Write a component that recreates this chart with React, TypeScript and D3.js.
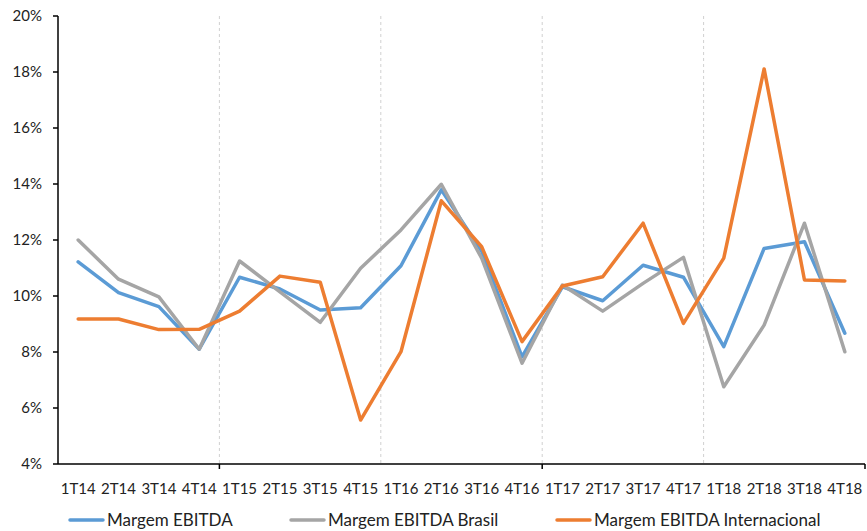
import * as d3 from "d3";
import { useEffect, useRef } from "react";

const categories = [
  "1T14", "2T14", "3T14", "4T14",
  "1T15", "2T15", "3T15", "4T15",
  "1T16", "2T16", "3T16", "4T16",
  "1T17", "2T17", "3T17", "4T17",
  "1T18", "2T18", "3T18", "4T18",
];

const margemEbitda = [
  11.22, 10.12, 9.62, 8.1, 10.67, 10.25, 9.5, 9.58, 11.08, 13.79,
  11.6, 7.83, 10.33, 9.83, 11.1, 10.67, 8.19, 11.7, 11.94, 8.67,
];
const margemBrasil = [
  12.0, 10.6, 9.97, 8.1, 11.25, 10.15, 9.06, 10.99, 12.36, 13.99,
  11.35, 7.6, 10.39, 9.46, 10.45, 11.38, 6.76, 8.96, 12.6, 8.01,
];
const margemInternacional = [
  9.18, 9.18, 8.8, 8.81, 9.46, 10.71, 10.49, 5.57, 8.01, 13.4,
  11.76, 8.37, 10.36, 10.69, 12.6, 9.02, 11.35, 18.11, 10.57, 10.54,
];

const yTicks = [4, 6, 8, 10, 12, 14, 16, 18, 20];

const series = [
  { name: "Margem EBITDA", values: margemEbitda, color: "#5B9BD5" },
  { name: "Margem EBITDA Brasil", values: margemBrasil, color: "#A5A5A5" },
  { name: "Margem EBITDA Internacional", values: margemInternacional, color: "#ED7D31" },
];

const W = 867, H = 531;
const FONT = "Lato, 'Open Sans', sans-serif";

const App = () => {
  const ref: any = useRef();

  useEffect(() => {
    const svg = d3.select(ref.current);
    svg.selectAll("*").remove();

    const left = 58, right = 865, top = 16, bottom = 464;

    const x = d3.scaleBand().domain(categories).range([left, right]).padding(0);
    const y = d3.scaleLinear().domain([4, 20]).range([bottom, top]);
    const cx = (c: string) => (x(c) as number) + x.bandwidth() / 2;

    // dashed vertical gridlines every 4 quarters
    const grid = [4, 8, 12, 16].map(i => x(categories[i]) as number);
    svg.append("g")
      .selectAll("line")
      .data(grid)
      .join("line")
        .attr("x1", d => d).attr("x2", d => d)
        .attr("y1", top).attr("y2", bottom)
        .attr("stroke", "#d0d0d0")
        .attr("stroke-width", 1)
        .attr("stroke-dasharray", "3,3");

    // y axis
    const ya = svg.append("g");
    ya.append("line")
      .attr("x1", left).attr("x2", left).attr("y1", top).attr("y2", bottom)
      .attr("stroke", "#000").attr("stroke-width", 1.5);
    ya.selectAll("line.t")
      .data(yTicks)
      .join("line")
        .attr("class", "t")
        .attr("x1", left - 5).attr("x2", left)
        .attr("y1", d => y(d)).attr("y2", d => y(d))
        .attr("stroke", "#000").attr("stroke-width", 1.5);
    ya.selectAll("text")
      .data(yTicks)
      .join("text")
        .attr("x", 42)
        .attr("y", d => y(d))
        .attr("dy", "0.35em")
        .attr("text-anchor", "end")
        .attr("font-family", FONT)
        .attr("font-size", 15)
        .attr("fill", "#222")
        .text(d => `${d}%`);

    // x axis
    const xa = svg.append("g");
    xa.append("line")
      .attr("x1", left).attr("x2", right).attr("y1", bottom).attr("y2", bottom)
      .attr("stroke", "#000").attr("stroke-width", 1.5);
    const xTickPos = [4, 12].map(i => x(categories[i]) as number).concat([right]);
    xa.selectAll("line.t")
      .data(xTickPos)
      .join("line")
        .attr("class", "t")
        .attr("x1", d => d).attr("x2", d => d)
        .attr("y1", bottom).attr("y2", bottom + 5)
        .attr("stroke", "#000").attr("stroke-width", 1.5);
    xa.selectAll("text")
      .data(categories)
      .join("text")
        .attr("x", d => cx(d))
        .attr("y", 494)
        .attr("text-anchor", "middle")
        .attr("font-family", FONT)
        .attr("font-size", 15)
        .attr("fill", "#222")
        .text(d => d);

    // lines
    const line = d3.line<number>()
      .x((_, i) => cx(categories[i]))
      .y(d => y(d));

    svg.append("g")
      .selectAll("path")
      .data(series)
      .join("path")
        .attr("d", d => line(d.values))
        .attr("fill", "none")
        .attr("stroke", d => d.color)
        .attr("stroke-width", 3.5)
        .attr("stroke-linejoin", "round")
        .attr("stroke-linecap", "round");

    // legend
    const legendX = [70, 291, 557];
    const lg = svg.append("g")
      .selectAll("g")
      .data(series)
      .join("g")
        .attr("transform", (_, i) => `translate(${legendX[i]},520)`);
    lg.append("line")
      .attr("x1", 0).attr("x2", 33)
      .attr("stroke", d => d.color)
      .attr("stroke-width", 3.5)
      .attr("stroke-linecap", "round");
    lg.append("text")
      .attr("x", 37)
      .attr("dy", "0.35em")
      .attr("font-family", FONT)
      .attr("font-size", 17)
      .attr("fill", "#222")
      .text(d => d.name);
  }, []);

  return (
    <svg
      ref={ref}
      width={W}
      height={H}
      style={{ position: "absolute", left: 0, top: 0, background: "#fff" }}
    />
  );
};

export default App;
